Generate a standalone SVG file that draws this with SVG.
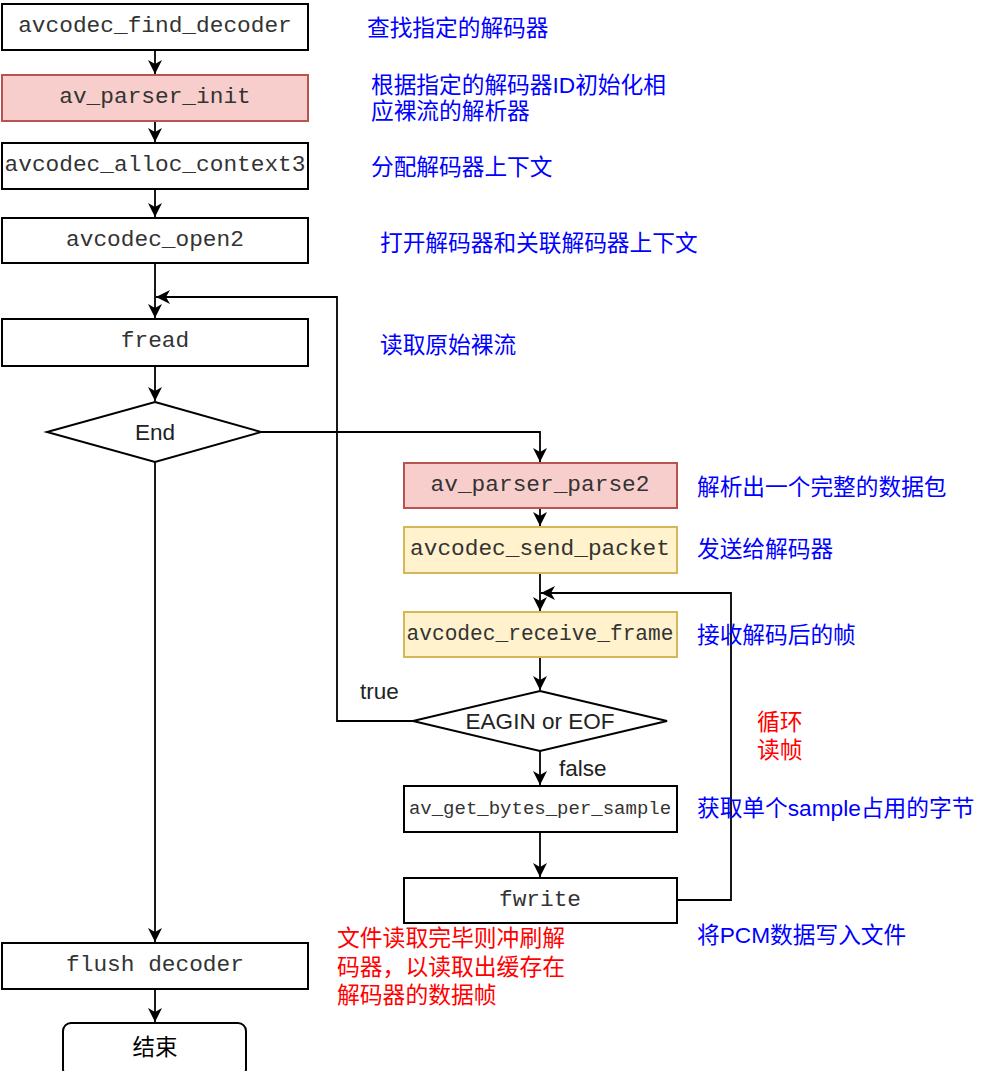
<svg xmlns="http://www.w3.org/2000/svg" width="985" height="1071" viewBox="0 0 985 1071">
<style>
.box{fill:#fff;stroke:#000;stroke-width:2}
.red{fill:#f8cecc;stroke:#b85450;stroke-width:2}
.yel{fill:#fff2cc;stroke:#d6b656;stroke-width:2}
.mono{font-family:"Liberation Mono",monospace;font-size:22.8px;fill:#333;text-anchor:middle}
.sans{font-family:"Liberation Sans","Noto Sans CJK SC",sans-serif;font-size:22.5px;fill:#222}
.blue{font-family:"Liberation Sans","Noto Sans CJK SC",sans-serif;font-size:22.7px;fill:#0000ff}
.rtxt{font-family:"Liberation Sans","Noto Sans CJK SC",sans-serif;font-size:22.8px;fill:#ff0000}
.ln{fill:none;stroke:#000;stroke-width:1.8}
</style>
<defs>
<marker id="arr" markerUnits="userSpaceOnUse" markerWidth="16" markerHeight="16" refX="14" refY="7" orient="auto">
<path d="M0,0 L14,7 L0,14 L4,7 z" fill="#000"/>
</marker>
</defs>
<rect width="985" height="1071" fill="#fff"/>
<g id="connectors">
<path class="ln" d="M155,50 V74" marker-end="url(#arr)"/>
<path class="ln" d="M155,121 V142" marker-end="url(#arr)"/>
<path class="ln" d="M155,189 V217" marker-end="url(#arr)"/>
<path class="ln" d="M155,263 V318" marker-end="url(#arr)"/>
<path class="ln" d="M413,721 H337 V297 H156" marker-end="url(#arr)"/>
<path class="ln" d="M155,366 V401" marker-end="url(#arr)"/>
<path class="ln" d="M261,432 H540 V462" marker-end="url(#arr)"/>
<path class="ln" d="M155,462 V942" marker-end="url(#arr)"/>
<path class="ln" d="M540,508 V526" marker-end="url(#arr)"/>
<path class="ln" d="M540,573 V611" marker-end="url(#arr)"/>
<path class="ln" d="M540,657 V690" marker-end="url(#arr)"/>
<path class="ln" d="M540,751 V785" marker-end="url(#arr)"/>
<path class="ln" d="M540,832 V877" marker-end="url(#arr)"/>
<path class="ln" d="M677,900 H731 V593 H541" marker-end="url(#arr)"/>
<path class="ln" d="M155,989 V1022" marker-end="url(#arr)"/>
<text class="sans" x="360" y="699">true</text>
<text class="sans" x="559" y="776">false</text>
</g>
<g id="n1"><rect class="box" x="2" y="4" width="306" height="46"/><text class="mono" x="155" y="32">avcodec_find_decoder</text></g>
<g id="n2"><rect class="red" x="2" y="75" width="306" height="46"/><text class="mono" x="155" y="103">av_parser_init</text></g>
<g id="n3"><rect class="box" x="2" y="143" width="306" height="46"/><text class="mono" x="155" y="171">avcodec_alloc_context3</text></g>
<g id="n4"><rect class="box" x="2" y="218" width="306" height="45"/><text class="mono" x="155" y="246">avcodec_open2</text></g>
<g id="n5"><rect class="box" x="2" y="319" width="306" height="47"/><text class="mono" x="155" y="347">fread</text></g>
<g id="n6"><polygon class="box" points="155,402 261,432 155,462 47,432"/><text class="sans" x="155" y="440" text-anchor="middle">End</text></g>
<g id="n7"><rect class="red" x="404" y="463" width="273" height="45"/><text class="mono" x="540" y="491">av_parser_parse2</text></g>
<g id="n8"><rect class="yel" x="404" y="527" width="273" height="46"/><text class="mono" x="540" y="555">avcodec_send_packet</text></g>
<g id="n9"><rect class="yel" x="404" y="612" width="273" height="45"/><text class="mono" x="540" y="640" style="font-size:21.2px">avcodec_receive_frame</text></g>
<g id="n10"><polygon class="box" points="540,691 667,721 540,751 413,721"/><text class="sans" x="540" y="729" text-anchor="middle">EAGIN or EOF</text></g>
<g id="n11"><rect class="box" x="404" y="786" width="273" height="46"/><text class="mono" x="540" y="814" style="font-size:19px">av_get_bytes_per_sample</text></g>
<g id="n12"><rect class="box" x="404" y="878" width="273" height="45"/><text class="mono" x="540" y="906">fwrite</text></g>
<g id="n13"><rect class="box" x="2" y="943" width="306" height="46"/><text class="mono" x="155" y="971">flush decoder</text></g>
<g id="n14"><rect class="box" x="63" y="1023" width="183" height="54" rx="8"/><text class="sans" x="155" y="1055" text-anchor="middle" style="fill:#000">结束</text></g>
<g id="notes">
<text class="blue" x="367" y="36">查找指定的解码器</text>
<text class="blue" x="371" y="93">根据指定的解码器ID初始化相</text>
<text class="blue" x="371" y="119">应裸流的解析器</text>
<text class="blue" x="371" y="175">分配解码器上下文</text>
<text class="blue" x="380" y="251">打开解码器和关联解码器上下文</text>
<text class="blue" x="380" y="353">读取原始裸流</text>
<text class="blue" x="697" y="495">解析出一个完整的数据包</text>
<text class="blue" x="697" y="557">发送给解码器</text>
<text class="blue" x="697" y="643">接收解码后的帧</text>
<text class="rtxt" x="757" y="730">循环</text>
<text class="rtxt" x="757" y="758">读帧</text>
<text class="blue" x="697" y="816">获取单个sample占用的字节</text>
<text class="blue" x="697" y="943">将PCM数据写入文件</text>
<text class="rtxt" x="337" y="946">文件读取完毕则冲刷解</text>
<text class="rtxt" x="337" y="975">码器，以读取出缓存在</text>
<text class="rtxt" x="337" y="1003">解码器的数据帧</text>
</g>
</svg>
